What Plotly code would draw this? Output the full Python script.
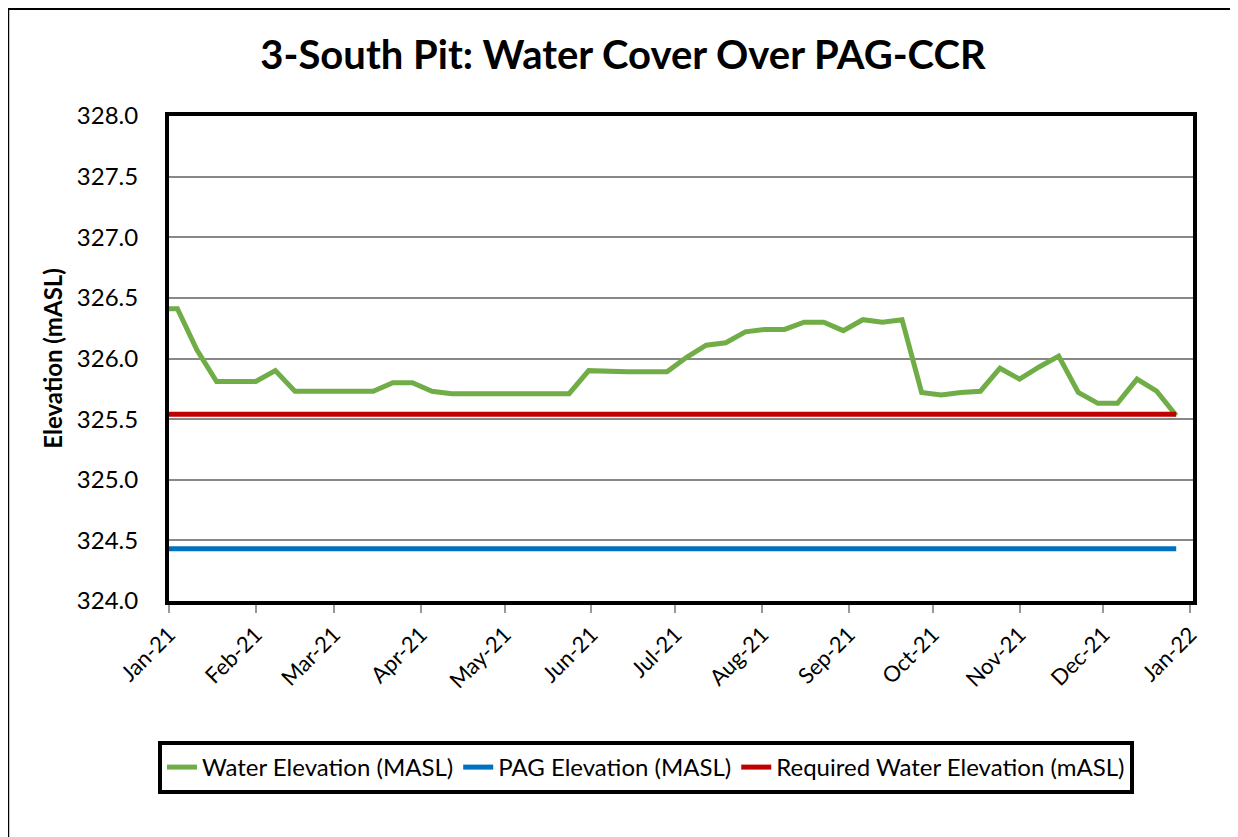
import plotly.graph_objects as go

dates = ["2021-01-01", "2021-01-04", "2021-01-11", "2021-01-18", "2021-01-25",
         "2021-02-01", "2021-02-08", "2021-02-15", "2021-02-22", "2021-03-01",
         "2021-03-08", "2021-03-15", "2021-03-22", "2021-03-29", "2021-04-05",
         "2021-04-12", "2021-04-19", "2021-04-26", "2021-05-03", "2021-05-10",
         "2021-05-17", "2021-05-24", "2021-05-31", "2021-06-07", "2021-06-14",
         "2021-06-21", "2021-06-28", "2021-07-05", "2021-07-12", "2021-07-19",
         "2021-07-26", "2021-08-02", "2021-08-09", "2021-08-16", "2021-08-23",
         "2021-08-30", "2021-09-06", "2021-09-13", "2021-09-20", "2021-09-27",
         "2021-10-04", "2021-10-11", "2021-10-18", "2021-10-25", "2021-11-01",
         "2021-11-08", "2021-11-15", "2021-11-22", "2021-11-29", "2021-12-06",
         "2021-12-13", "2021-12-20", "2021-12-27"]

water_elev = [326.41, 326.41, 326.07, 325.81, 325.81,
              325.81, 325.90, 325.73, 325.73, 325.73,
              325.73, 325.73, 325.80, 325.80, 325.73,
              325.71, 325.71, 325.71, 325.71, 325.71,
              325.71, 325.71, 325.90, 325.89, 325.89,
              325.89, 325.89, 326.01, 326.11, 326.13,
              326.22, 326.24, 326.24, 326.30, 326.30,
              326.23, 326.32, 326.30, 326.32, 325.72,
              325.70, 325.72, 325.73, 325.92, 325.83,
              325.93, 326.02, 325.72, 325.63, 325.63,
              325.83, 325.73, 325.53]

pag_elev = [324.43] * len(dates)
required_elev = [325.54] * len(dates)

series_names = ["Water Elevation (MASL)", "PAG Elevation (MASL)", "Required Water Elevation (mASL)"]
series_colors = ["#70AD47", "#0070C0", "#C00000"]

month_ticks = ["2021-01-01", "2021-02-01", "2021-03-01", "2021-04-01", "2021-05-01",
               "2021-06-01", "2021-07-01", "2021-08-01", "2021-09-01", "2021-10-01",
               "2021-11-01", "2021-12-01", "2022-01-01"]
month_labels = ["Jan-21", "Feb-21", "Mar-21", "Apr-21", "May-21", "Jun-21", "Jul-21",
                "Aug-21", "Sep-21", "Oct-21", "Nov-21", "Dec-21", "Jan-22"]

FONT = "Lato"

fig = go.Figure()
for name, vals, col in zip(series_names, [water_elev, pag_elev, required_elev], series_colors):
    fig.add_trace(go.Scatter(x=dates, y=vals, name=name, mode="lines",
                             line=dict(color=col, width=5)))

fig.update_layout(
    width=1230, height=829,
    paper_bgcolor="white", plot_bgcolor="white",
    margin=dict(l=161, r=45, t=108, b=236),
    title=dict(text="<b>3-South Pit: Water Cover Over PAG-CCR</b>",
               x=0.5, xanchor="center", xref="container",
               y=0.943, yanchor="middle", yref="container",
               font=dict(family=FONT, size=40, color="black")),
    font=dict(family=FONT, color="black"),
    showlegend=True,
    legend=dict(orientation="h", xref="container", yref="container",
                x=0.5187, xanchor="center", y=0.1158, yanchor="top",
                bordercolor="black", borderwidth=4, bgcolor="white",
                font=dict(family=FONT, size=24, color="black"),
                itemwidth=30, tracegroupgap=0),
)

fig.update_xaxes(
    type="date", range=["2021-01-01", "2022-01-02"],
    tickvals=month_ticks, ticktext=month_labels, tickangle=-45,
    tickfont=dict(family=FONT, size=22, color="black"),
    showgrid=False, showline=True, linecolor="black", linewidth=4, mirror=True,
    ticks="outside", tickcolor="#999999", tickwidth=2, ticklen=8,
)
fig.update_yaxes(
    range=[324, 328], dtick=0.5, tickformat=".1f",
    tickfont=dict(family=FONT, size=24, color="black"),
    showgrid=True, gridcolor="#888888", gridwidth=2,
    showline=True, linecolor="black", linewidth=4, mirror=True,
    ticks="", ticklabelstandoff=22,
    title=dict(text="<b>Elevation (mASL)</b>", font=dict(family=FONT, size=24, color="black"),
               standoff=8),
    zeroline=False,
)

# outer chart-area border
fig.add_shape(type="rect", xref="paper", yref="paper",
              x0=-0.157, x1=1.3, y0=-0.7, y1=1.2205,
              line=dict(color="black", width=2), fillcolor="rgba(0,0,0,0)", layer="below")

fig.write_html("out.html")
